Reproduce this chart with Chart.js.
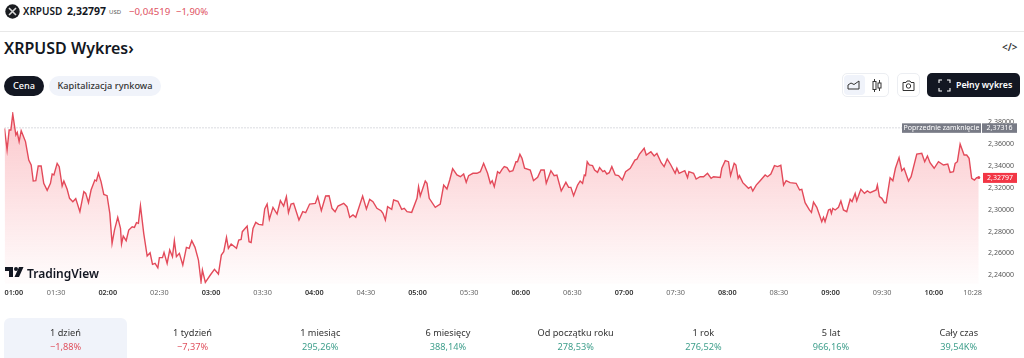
<!DOCTYPE html>
<html lang="pl">
<head>
<meta charset="utf-8">
<title>XRPUSD Wykres</title>
<script src="https://cdn.jsdelivr.net/npm/chart.js@4/dist/chart.umd.min.js"></script>
<style>
  html, body { margin: 0; padding: 0; background: #fff; }
  body { width: 1024px; height: 358px; overflow: hidden; position: relative; font-family: "Noto Sans", sans-serif; color: #131722; }
  .abs { position: absolute; white-space: nowrap; }
  #chartBox { position: absolute; left: 0; top: 100px; width: 1024px; height: 200px; }
  .pill { border-radius: 10px; font-size: 9.2px; line-height: 20px; text-align: center; height: 20px; top: 76px; font-weight: 500; }
  .box { border: 1px solid #eceef2; border-radius: 5px; background: #fff; box-sizing: border-box; }
  .tab { position: absolute; top: 318px; height: 40px; width: 127.7px; text-align: center; font-size: 9.2px; }
  .tab .name { position: absolute; top: 8px; left: 0; right: 0; color: #333; line-height: 13px; }
  .tab .val { position: absolute; top: 22px; left: 0; right: 0; line-height: 13px; }
  .red { color: #e0525f; }
  .green { color: #3f9f8c; }
</style>
</head>
<body>

<svg class="abs" style="left:5px;top:4px" width="15" height="15" viewBox="0 0 15 15">
  <circle cx="7.5" cy="7.5" r="7.2" fill="#1a1c20"/>
  <path d="M4 4l7 7M11 4l-7 7" stroke="#d8d8d8" stroke-width="1.6"/>
</svg>
<div class="abs" style="left:23px;top:4px;font-size:10px;font-weight:600;line-height:15px">XRPUSD</div>
<div class="abs" style="left:67px;top:4px;font-size:10.5px;font-weight:700;line-height:15px">2,32797</div>
<div class="abs" style="left:109px;top:7px;font-size:6px;line-height:10px;color:#555">USD</div>
<div class="abs red" style="left:129px;top:4px;font-size:9.7px;line-height:15px">−0,04519</div>
<div class="abs red" style="left:176px;top:4px;font-size:9.5px;line-height:15px">−1,90%</div>
<div class="abs" style="left:0;top:31px;width:1024px;height:1px;background:#e8e8e8"></div>

<div class="abs" style="left:4px;top:36px;font-size:16px;font-weight:600;line-height:24px">XRPUSD Wykres<span style="font-size:16px">›</span></div>
<div class="abs" style="left:1002px;top:41px;font-size:10px;font-weight:600;line-height:13px;color:#333">&lt;/&gt;</div>

<div class="abs pill" style="left:4px;width:40px;background:#131722;color:#fff">Cena</div>
<div class="abs pill" style="left:49px;width:112px;background:#f0f3fa;color:#333">Kapitalizacja rynkowa</div>

<div class="abs box" style="left:842px;top:73px;width:47px;height:24px"></div>
<div class="abs" style="left:844px;top:75px;width:21px;height:20px;background:#f0f3fa;border-radius:4px"></div>
<svg class="abs" style="left:847px;top:80px" width="13" height="10" viewBox="0 0 13 10">
  <path d="M1 9V5l3-2 3 1.5L12 1v8z" fill="none" stroke="#333" stroke-width="1"/>
</svg>
<svg class="abs" style="left:872px;top:79px" width="10" height="13" viewBox="0 0 10 13">
  <path d="M2.5 0v13M7.5 1v11" stroke="#333" stroke-width="1"/>
  <rect x="1" y="2.5" width="3" height="8" fill="#fff" stroke="#333"/>
  <rect x="6" y="4" width="3" height="5" fill="#fff" stroke="#333"/>
</svg>
<div class="abs box" style="left:897px;top:73px;width:23px;height:24px"></div>
<svg class="abs" style="left:902px;top:80px" width="13" height="11" viewBox="0 0 13 11">
  <path d="M1 2.5h3l1-1.5h3l1 1.5h3v8H1z" fill="none" stroke="#333" stroke-width="1"/>
  <circle cx="6.5" cy="6" r="2.2" fill="none" stroke="#333" stroke-width="1"/>
</svg>
<div class="abs" style="left:927px;top:73px;width:93px;height:24px;border-radius:5px;background:#131722"></div>
<svg class="abs" style="left:938px;top:79px" width="13" height="13" viewBox="0 0 13 13">
  <path d="M1 4V1h3M9 1h3v3M12 9v3H9M4 12H1V9" fill="none" stroke="#fff" stroke-width="1.1"/>
</svg>
<div class="abs" style="left:956px;top:78px;font-size:8.8px;font-weight:600;line-height:14px;color:#fff">Pełny wykres</div>

<div id="chartBox"><canvas id="xrpChart" width="1024" height="200"></canvas></div>

<svg class="abs" style="left:5px;top:267px" width="19" height="11" viewBox="0 0 19 11">
  <path d="M0 0h8v10H4V4H0z M18.5 0L14 10H9.5L14 0z" fill="#131722"/>
  <circle cx="11" cy="2" r="2" fill="#131722"/>
</svg>
<div class="abs" style="left:27px;top:265px;font-size:12px;font-weight:600;line-height:17px;color:#131722">TradingView</div>

<div id="tabs"></div>

<script>
// Minutes since 01:00
const minutes = [
  0, 1.5, 2.7, 3.7, 4.8, 6.6, 7.4, 8.5, 9.7, 12.2, 14.1, 15.5, 16.7, 18.2, 19.6, 21.3, 22.8, 24.8, 26.7, 27.7,
  28.7, 30.6, 31.8, 33.5, 34.5, 36.4, 37.8, 39.7, 41.4, 43.8, 46.1, 47.2, 48.8, 50.3, 52.5, 53.4, 54.6, 56.1, 57.7, 59.6,
  61.2, 62.5, 63.9, 65.8, 67.4, 68.0, 69.0, 70.7, 72.2, 74.2, 75.5, 76.7, 77.8, 79.0, 80.9, 82.9, 84.6, 86.0, 87.5, 89.1,
  90.0, 91.8, 92.7, 94.5, 96.0, 97.6, 98.7, 99.9, 101.6, 103.6, 105.7, 107.3, 108.8, 110.7, 112.7, 114.2, 115.0, 116.7, 119.6, 122.0,
  124.3, 126.0, 127.4, 129.0, 130.1, 131.7, 134.8, 136.1, 137.5, 138.2, 141.0, 142.1, 143.3, 144.4, 146.0, 147.7, 150.0, 151.2, 152.6, 153.9,
  156.0, 158.4, 160.3, 162.2, 163.8, 165.0, 166.5, 168.0, 171.1, 173.3, 175.0, 177.3, 180.6, 182.0, 184.1, 186.6, 188.6, 190.3, 192.1, 193.8,
  197.1, 199.0, 200.6, 202.5, 204.1, 208.1, 210.3, 212.2, 214.1, 216.4, 218.8, 219.9, 221.3, 222.6, 225.0, 226.1, 228.6, 230.8, 232.3, 233.9,
  236.6, 239.7, 240.6, 241.6, 244.5, 245.5, 246.8, 250.3, 253.2, 255.2, 257.1, 258.7, 260.4, 262.9, 264.9, 266.8, 268.3, 269.7, 272.2, 274.5,
  276.5, 278.4, 280.7, 282.3, 283.4, 284.6, 286.5, 287.7, 289.1, 290.4, 292.0, 293.5, 295.4, 297.2, 298.1, 299.5, 300.7, 302.2, 305.5, 307.4,
  309.8, 311.7, 313.6, 314.8, 317.5, 319.4, 321.0, 323.5, 326.2, 327.8, 329.1, 330.7, 333.0, 334.5, 335.9, 336.9, 337.6, 338.6, 339.8, 341.7,
  342.9, 344.6, 345.8, 347.7, 348.7, 350.0, 351.4, 352.9, 354.9, 356.8, 359.0, 360.9, 363.6, 366.3, 367.5, 369.0, 371.7, 372.9, 375.6, 377.5,
  379.1, 381.6, 383.3, 385.1, 387.2, 389.7, 390.7, 392.0, 395.3, 396.9, 397.7, 400.4, 401.9, 404.2, 406.2, 408.5, 410.6, 412.0, 415.9, 416.8,
  418.8, 420.7, 421.9, 424.0, 425.0, 426.3, 427.1, 429.0, 432.3, 433.7, 434.8, 436.8, 439.1, 442.0, 443.4, 445.3, 447.4, 449.2, 451.1, 452.7,
  454.2, 456.5, 460.0, 462.0, 463.3, 465.2, 467.7, 468.9, 470.1, 472.0, 474.9, 475.9, 476.8, 478.8, 479.8, 480.5, 481.3, 482.7, 484.6, 486.0,
  487.5, 489.4, 491.4, 492.5, 494.3, 495.2, 497.6, 499.7, 501.4, 503.0, 506.5, 507.2, 508.4, 509.8, 511.3, 512.3, 514.6, 516.2, 517.7, 519.8,
  521.4, 522.7, 525.3, 526.8, 530.1, 533.0, 534.7, 536.3, 537.8, 540.2, 542.7, 545.6, 548.1, 549.5, 551.4, 552.4, 553.7, 555.3, 557.6, 559.1,
  560.5, 562.0, 563.6, 564.9, 566.1
];
const prices = [
  2.3727, 2.3530, 2.3712, 2.3712, 2.3858, 2.3666, 2.3691, 2.3606, 2.3706, 2.3606, 2.3438, 2.3393, 2.3247, 2.3250, 2.3384, 2.3384, 2.3226, 2.3162, 2.3226, 2.3311,
  2.3302, 2.3408, 2.3378, 2.3201, 2.3247, 2.3171, 2.3089, 2.3058, 2.3086, 2.2967, 2.3150, 2.3134, 2.3049, 2.3165, 2.3256, 2.3247, 2.3317, 2.3241, 2.3125, 2.3113,
  2.2952, 2.2678, 2.2800, 2.2915, 2.2815, 2.2672, 2.2745, 2.2703, 2.2800, 2.2830, 2.2824, 2.2867, 2.2861, 2.3022, 2.2770, 2.2563, 2.2593, 2.2487, 2.2496, 2.2456,
  2.2548, 2.2548, 2.2596, 2.2496, 2.2618, 2.2557, 2.2703, 2.2557, 2.2587, 2.2481, 2.2642, 2.2633, 2.2703, 2.2642, 2.2526, 2.2329, 2.2435, 2.2323, 2.2390, 2.2441,
  2.2399, 2.2572, 2.2602, 2.2733, 2.2633, 2.2672, 2.2633, 2.2709, 2.2715, 2.2785, 2.2836, 2.2694, 2.2687, 2.2815, 2.2870, 2.2852, 2.2846, 2.2992, 2.3037, 2.2897,
  2.3007, 2.2946, 2.3068, 2.3019, 2.3104, 2.2958, 2.3037, 2.3043, 2.2891, 2.2967, 2.2958, 2.3037, 2.3043, 2.3104, 2.2976, 2.3110, 2.3113, 2.2998, 2.2967, 2.3019,
  2.3043, 2.3013, 2.2916, 2.2937, 2.2916, 2.3110, 2.2992, 2.3080, 2.3059, 2.2998, 2.2976, 2.2952, 2.2891, 2.3013, 2.2989, 2.3074, 2.3062, 2.2989, 2.2998, 2.2967,
  2.2961, 2.3089, 2.3195, 2.3110, 2.3247, 2.3226, 2.3089, 2.3007, 2.3037, 2.3210, 2.3174, 2.3256, 2.3359, 2.3302, 2.3286, 2.3311, 2.3235, 2.3296, 2.3317, 2.3317,
  2.3332, 2.3408, 2.3317, 2.3226, 2.3250, 2.3195, 2.3332, 2.3317, 2.3353, 2.3378, 2.3369, 2.3332, 2.3341, 2.3423, 2.3423, 2.3490, 2.3454, 2.3363, 2.3347, 2.3250,
  2.3280, 2.3347, 2.3347, 2.3226, 2.3341, 2.3296, 2.3302, 2.3156, 2.3235, 2.3189, 2.3189, 2.3113, 2.3210, 2.3247, 2.3226, 2.3302, 2.3296, 2.3423, 2.3393, 2.3387,
  2.3347, 2.3326, 2.3369, 2.3332, 2.3341, 2.3311, 2.3323, 2.3378, 2.3302, 2.3296, 2.3256, 2.3332, 2.3363, 2.3438, 2.3445, 2.3493, 2.3545, 2.3484, 2.3514, 2.3475,
  2.3499, 2.3414, 2.3378, 2.3448, 2.3393, 2.3317, 2.3363, 2.3317, 2.3341, 2.3277, 2.3332, 2.3317, 2.3265, 2.3286, 2.3286, 2.3317, 2.3271, 2.3286, 2.3280, 2.3363,
  2.3432, 2.3423, 2.3296, 2.3408, 2.3393, 2.3271, 2.3296, 2.3232, 2.3180, 2.3195, 2.3156, 2.3210, 2.3250, 2.3302, 2.3286, 2.3311, 2.3387, 2.3378, 2.3390, 2.3210,
  2.3250, 2.3232, 2.3226, 2.3165, 2.3171, 2.3049, 2.2983, 2.2961, 2.3055, 2.3007, 2.2876, 2.2916, 2.2876, 2.2983, 2.2989, 2.2952, 2.2998, 2.2983, 2.3007, 2.3065,
  2.2983, 2.2967, 2.3080, 2.3059, 2.3134, 2.3068, 2.3171, 2.3134, 2.3156, 2.3140, 2.3165, 2.3210, 2.3104, 2.3089, 2.3049, 2.3049, 2.3277, 2.3250, 2.3363, 2.3460,
  2.3341, 2.3363, 2.3247, 2.3286, 2.3493, 2.3499, 2.3423, 2.3475, 2.3414, 2.3363, 2.3423, 2.3393, 2.3402, 2.3326, 2.3332, 2.3408, 2.3423, 2.3584, 2.3484, 2.3484,
  2.3454, 2.3271, 2.3256, 2.3277, 2.32797
];
const prevClose = 2.37316;
const lastPrice = 2.32797;

const xTickValues = [0, 30, 60, 90, 120, 150, 180, 210, 240, 270, 300, 330, 360, 390, 420, 450, 480, 510, 540, 568];
const xTickLabels = ["01:00", "01:30", "02:00", "02:30", "03:00", "03:30", "04:00", "04:30", "05:00", "05:30", "06:00", "06:30", "07:00", "07:30", "08:00", "08:30", "09:00", "09:30", "10:00", "10:28"];
const yTickValues = [2.24, 2.26, 2.28, 2.30, 2.32, 2.34, 2.36, 2.38];

const periods = ["1 dzień", "1 tydzień", "1 miesiąc", "6 miesięcy", "Od początku roku", "1 rok", "5 lat", "Cały czas"];
const changes = ["−1,88%", "−7,37%", "295,26%", "388,14%", "278,53%", "276,52%", "966,16%", "39,54K%"];

// Period tabs under the chart
const tabs = document.getElementById("tabs");
periods.forEach((name, i) => {
  const tab = document.createElement("div");
  tab.className = "tab";
  tab.style.left = (1 + i * 127.7) + "px";
  if (i === 0) {
    tab.style.left = "4px";
    tab.style.width = "123px";
    tab.style.background = "#f0f3fa";
    tab.style.borderRadius = "6px 6px 0 0";
  }
  const cls = changes[i].startsWith("−") ? "red" : "green";
  tab.innerHTML = '<div class="name">' + name + '</div><div class="val ' + cls + '">' + changes[i] + '</div>';
  tabs.appendChild(tab);
});

const fmtPrice = (v, digits) => v.toFixed(digits).replace(".", ",");

// Price tags on the right edge
const priceTags = {
  id: "priceTags",
  afterDraw(chart) {
    const ctx = chart.ctx;
    const y = chart.scales.y;
    ctx.save();
    ctx.font = "7px 'Noto Sans'";
    ctx.textBaseline = "middle";
    ctx.textAlign = "center";

    const prevY = y.getPixelForValue(prevClose);
    ctx.fillStyle = "#787b86";
    ctx.fillRect(902, prevY - 4.5, 79, 9.5);
    ctx.fillRect(982, prevY - 4.5, 35, 9.5);
    ctx.fillStyle = "#fff";
    ctx.fillText("Poprzednie zamknięcie", 941.5, prevY + 0.5);
    ctx.fillText(fmtPrice(prevClose, 5), 999.5, prevY + 0.5);

    const lastY = y.getPixelForValue(lastPrice);
    ctx.fillStyle = "#f23645";
    ctx.fillRect(983, lastY - 4.5, 34, 10);
    ctx.fillStyle = "#fff";
    ctx.fillText(fmtPrice(lastPrice, 5), 1000, lastY + 0.5);
    ctx.restore();
  }
};

const points = minutes.map((m, i) => ({ x: m, y: prices[i] }));

new Chart(document.getElementById("xrpChart"), {
  type: "line",
  data: {
    datasets: [{
      data: points,
      borderColor: "#e34a5a",
      borderWidth: 1.4,
      tension: 0,
      fill: "start",
      backgroundColor(context) {
        const area = context.chart.chartArea;
        if (!area) return "rgba(242,54,69,0.2)";
        const grad = context.chart.ctx.createLinearGradient(0, area.top, 0, area.bottom);
        grad.addColorStop(0, "rgba(242,54,69,0.28)");
        grad.addColorStop(1, "rgba(242,54,69,0.01)");
        return grad;
      },
      pointRadius: (c) => c.dataIndex === minutes.length - 1 ? 1.5 : 0,
      pointBackgroundColor: "#e34a5a",
      pointBorderWidth: 0
    }, {
      data: [{ x: xTickValues[0], y: prevClose }, { x: xTickValues[xTickValues.length - 1], y: prevClose }],
      borderColor: "#b5b8c0",
      borderWidth: 1,
      borderDash: [1, 2],
      pointRadius: 0,
      fill: false
    }]
  },
  options: {
    responsive: false,
    animation: false,
    layout: { padding: { left: 4, top: 12, right: 0, bottom: 0 } },
    plugins: { legend: { display: false }, tooltip: { enabled: false } },
    scales: {
      x: {
        type: "linear",
        min: xTickValues[0],
        max: xTickValues[xTickValues.length - 1],
        grid: { display: false, drawTicks: false },
        border: { display: false },
        afterBuildTicks(axis) { axis.ticks = xTickValues.map((v) => ({ value: v })); },
        afterFit(axis) { axis.height = 16; },
        ticks: {
          autoSkip: false,
          maxRotation: 0,
          align: "inner",
          padding: 4.5,
          color: (c) => c.index % 2 === 0 ? "#333" : "#666",
          font: (c) => ({ family: "Noto Sans", size: 7.3, weight: (c.index % 2 === 0 && c.index < xTickValues.length - 1) ? "600" : "400" }),
          callback: (v, i) => xTickLabels[i]
        }
      },
      y: {
        position: "right",
        min: 2.2308,
        max: 2.3876,
        grid: { display: false, drawTicks: false },
        border: { display: false },
        afterBuildTicks(axis) { axis.ticks = yTickValues.map((v) => ({ value: v })); },
        afterFit(axis) { axis.width = 42; },
        ticks: {
          autoSkip: false,
          padding: 6,
          labelOffset: 1.5,
          color: "#555",
          font: { family: "Noto Sans", size: 7 },
          callback: (v) => fmtPrice(v, 5)
        }
      }
    }
  },
  plugins: [priceTags]
});
</script>
</body>
</html>
